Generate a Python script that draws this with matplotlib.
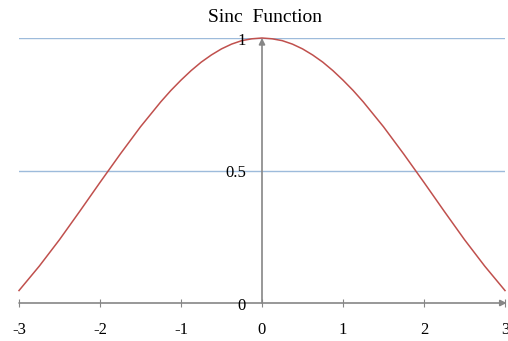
import matplotlib.pyplot as plt

# values
x_vals = [-3, -2.75, -2.5, -2.25, -2, -1.75, -1.5, -1.25, -1.125, -1, -0.875, -0.75, -0.625,
          -0.5, -0.375, -0.25, -0.125, 0,
          0.125, 0.25, 0.375, 0.5, 0.625, 0.75, 0.875, 1, 1.125, 1.25, 1.5, 1.75, 2, 2.25,
          2.5, 2.75, 3]
y_vals = [0.047, 0.139, 0.239, 0.346, 0.455, 0.562, 0.665, 0.759, 0.802, 0.841, 0.877, 0.909, 0.936,
          0.959, 0.977, 0.990, 0.997, 1.0,
          0.997, 0.990, 0.977, 0.959, 0.936, 0.909, 0.877, 0.841, 0.802, 0.759, 0.665, 0.562, 0.455, 0.346,
          0.239, 0.139, 0.047]
x_ticks = [-3, -2, -1, 0, 1, 2, 3]
y_ticks = [0, 0.5, 1]
y_labels = ["0", "0.5", "1"]

serif = ["Liberation Serif", "DejaVu Serif"]
axis_col = "#868686"

fig = plt.figure(figsize=(5.08, 3.41), dpi=100)
ax = fig.add_axes([19 / 508, 38 / 341, 486 / 508, 265 / 341])
ax.set_xlim(-3, 3)
ax.set_ylim(0, 1)
for s in ax.spines.values():
    s.set_visible(False)
ax.set_yticks([])
ax.set_xticks(x_ticks)
ax.set_xticklabels([str(t) for t in x_ticks], family=serif, fontsize=12)
ax.tick_params(axis="x", direction="inout", length=6, color=axis_col, pad=11)

# horizontal gridlines
for yv in y_ticks[1:]:
    ax.axhline(yv, color="#9dbbdb", lw=1, zorder=1)

# axes with arrows
ax.annotate("", xy=(3.02, 0), xytext=(-3, 0),
            arrowprops=dict(arrowstyle="-|>", color=axis_col, lw=1.2, mutation_scale=9,
                            shrinkA=0, shrinkB=0), annotation_clip=False)
ax.annotate("", xy=(0, 1.0), xytext=(0, 0),
            arrowprops=dict(arrowstyle="-|>", color=axis_col, lw=1.2, mutation_scale=9,
                            shrinkA=0, shrinkB=0), annotation_clip=False)

for yv, lab in zip(y_ticks, y_labels):
    ax.text(-0.2, yv - 0.01, lab, ha="right", va="center", family=serif, fontsize=12, zorder=5)

ax.plot(x_vals, y_vals, color="#c0504d", lw=1.1, zorder=3, clip_on=False)

fig.text(265 / 508, 1 - 17 / 341, "Sinc  Function", ha="center", va="center",
         family=serif, fontsize=14)

fig.savefig("out.png", dpi=100)
